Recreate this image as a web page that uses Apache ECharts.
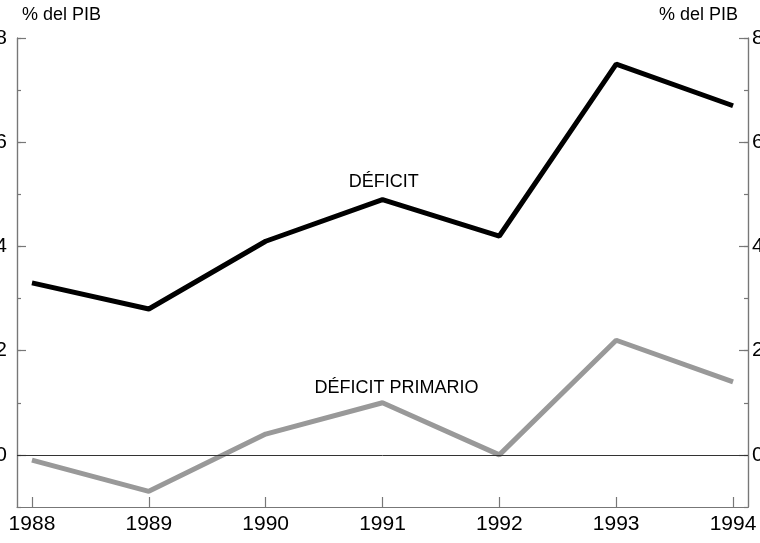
<!DOCTYPE html>
<html>
<head>
<meta charset="utf-8">
<style>
html,body{margin:0;padding:0;background:#fff;}
#chart{width:760px;height:543px;}
</style>
<script src="https://cdn.jsdelivr.net/npm/echarts@6/dist/echarts.min.js"></script>
</head>
<body>
<div id="chart"></div>
<script>
const years = [1988, 1989, 1990, 1991, 1992, 1993, 1994];
const deficit = [3.3, 2.8, 4.1, 4.9, 4.2, 7.5, 6.7];
const deficitPrimario = [-0.1, -0.7, 0.4, 1.0, 0.0, 2.2, 1.4];
const majorTicks = [0, 2, 4, 6, 8];
const unitLabel = '% del PIB';

const FONT = '"Liberation Sans", Arial, Helvetica, sans-serif';
const axisColor = '#777';

function pair(vals){ return years.map((y,i)=>[y, vals[i]]); }

function yAx(pos, major){
  const o = {
    type: 'value', position: pos, min: -1, max: 8,
    axisLine: {show: true, onZero: false, lineStyle: {color: axisColor, width: 1.2}},
    splitLine: {show: false},
  };
  if (major) {
    o.axisTick = {show: true, inside: true, length: 9, customValues: majorTicks, lineStyle: {color: axisColor, width: 1.2}};
    o.axisLabel = {show: true, customValues: majorTicks, fontSize: 21, color: '#000', fontFamily: FONT, margin: pos === 'left' ? 10 : 4};
  } else {
    o.interval = 1;
    o.axisTick = {show: true, inside: true, length: 4, lineStyle: {color: axisColor, width: 1.2}};
    o.axisLabel = {show: false};
  }
  return o;
}

const chart = echarts.init(document.getElementById('chart'));
chart.setOption({
  animation: false,
  backgroundColor: '#fff',
  textStyle: {fontFamily: FONT},
  grid: {left: 17, right: 12, top: 38, bottom: 36, containLabel: false, outerBoundsMode: 'none'},
  xAxis: {
    type: 'value', min: 1987.872, max: 1994.128,
    axisLine: {show: true, onZero: false, lineStyle: {color: axisColor, width: 1.2}},
    axisTick: {show: true, inside: true, length: 10, customValues: years, lineStyle: {color: axisColor, width: 1.2}},
    axisLabel: {show: true, customValues: years, fontSize: 21, color: '#000', fontFamily: FONT, margin: 7, formatter: v => String(Math.round(v))},
    splitLine: {show: false}
  },
  yAxis: [yAx('left', false), yAx('left', true), yAx('right', false), yAx('right', true)],
  graphic: [
    {type: 'text', left: 22, top: 6, style: {text: unitLabel, fontSize: 18, fill: '#000', fontFamily: FONT}},
    {type: 'text', right: 22, top: 6, style: {text: unitLabel, fontSize: 18, fill: '#000', fontFamily: FONT}}
  ],
  series: [
    {
      type: 'line', yAxisIndex: 0, data: pair(deficitPrimario),
      symbol: 'none', lineStyle: {color: '#999', width: 5}, z: 3,
      markLine: {silent: true, symbol: 'none', label: {show: false},
        lineStyle: {color: '#333', width: 1, type: 'solid'}, data: [{yAxis: 0}]},
      markPoint: {symbolSize: 0, data: [{coord: [1991.12, 1.29], value: 'DÉFICIT PRIMARIO'}],
        label: {show: true, position: 'inside', formatter: 'DÉFICIT PRIMARIO', fontSize: 18, color: '#000', fontFamily: FONT}}
    },
    {
      type: 'line', yAxisIndex: 0, data: pair(deficit),
      symbol: 'none', lineStyle: {color: '#000', width: 5}, z: 4,
      markPoint: {symbolSize: 0, data: [{coord: [1991.01, 5.24], value: 'DÉFICIT'}],
        label: {show: true, position: 'inside', formatter: 'DÉFICIT', fontSize: 18, color: '#000', fontFamily: FONT}}
    }
  ]
});
</script>
</body>
</html>
